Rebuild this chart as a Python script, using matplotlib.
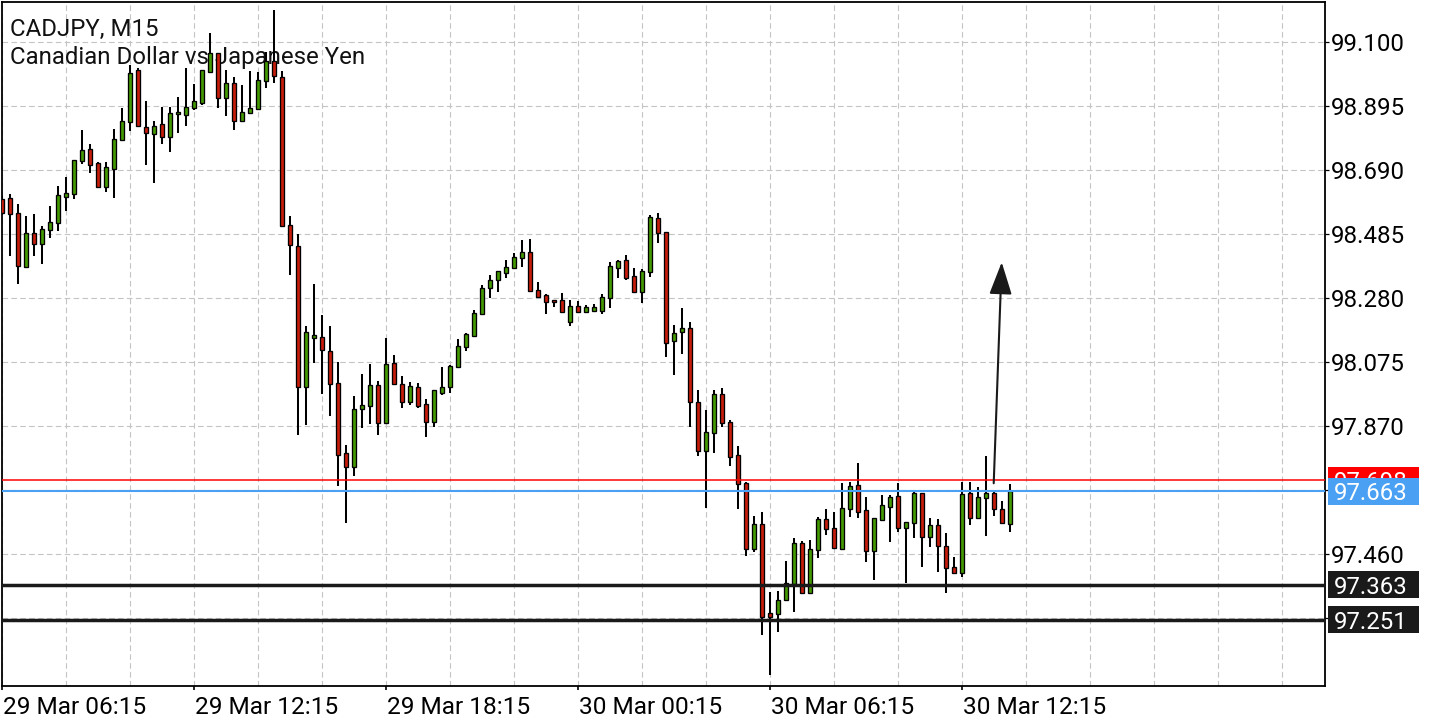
"""
plot.py - CADJPY M15 candlestick chart with support lines and price tags.
"""

import matplotlib

matplotlib.use("Agg")
import matplotlib.pyplot as plt
import matplotlib.transforms as mtransforms
from matplotlib.patches import Rectangle
import numpy as np
import pandas as pd

plt.rcParams["font.family"] = ["Roboto", "DejaVu Sans"]

# 15-minute bars, 29 Mar 06:15 .. 30 Mar 13:45
times = pd.date_range("2023-03-29 06:15", periods=127, freq="15min")

opens = [
    98.599, 98.601, 98.553, 98.381, 98.489, 98.454, 98.499, 98.521, 98.606, 98.615,
    98.719, 98.759, 98.715, 98.636, 98.696, 98.788, 98.844, 99.012, 98.830, 98.807,
    98.838, 98.796, 98.873, 98.868, 98.889, 98.905, 99.004, 99.067, 98.921, 98.969,
    98.848, 98.873, 98.887, 98.978, 99.042, 98.990, 98.514, 98.449, 97.995, 98.152,
    98.156, 98.113, 98.010, 97.784, 97.739, 97.925, 97.936, 98.002, 97.880, 98.072,
    98.006, 97.949, 97.995, 97.942, 97.885, 97.978, 97.997, 98.061, 98.124, 98.160,
    98.229, 98.313, 98.339, 98.361, 98.377, 98.411, 98.428, 98.307, 98.290, 98.275,
    98.275, 98.204, 98.256, 98.238, 98.241, 98.241, 98.281, 98.379, 98.402, 98.351,
    98.300, 98.366, 98.537, 98.492, 98.145, 98.172, 98.184, 97.949, 97.791, 97.848,
    97.973, 97.883, 97.778, 97.688, 97.477, 97.558, 97.272, 97.268, 97.314, 97.365,
    97.496, 97.336, 97.474, 97.573, 97.544, 97.477, 97.605, 97.683, 97.602, 97.472,
    97.570, 97.613, 97.647, 97.544, 97.560, 97.656, 97.515, 97.554, 97.487, 97.419,
    97.400, 97.656, 97.576, 97.640, 97.658, 97.605, 97.558,
]
highs = [
    98.608, 98.615, 98.583, 98.544, 98.551, 98.512, 98.576, 98.640, 98.668, 98.723,
    98.820, 98.775, 98.717, 98.717, 98.823, 98.889, 99.027, 99.017, 98.912, 98.849,
    98.894, 98.892, 98.924, 99.017, 98.967, 99.012, 99.129, 99.067, 99.012, 98.988,
    98.964, 99.009, 99.006, 99.070, 99.204, 99.010, 98.544, 98.486, 98.192, 98.326,
    98.227, 98.192, 98.076, 97.811, 97.968, 98.038, 98.070, 98.016, 98.154, 98.099,
    98.032, 98.012, 98.010, 97.957, 97.987, 98.061, 98.067, 98.149, 98.168, 98.243,
    98.323, 98.354, 98.368, 98.403, 98.427, 98.467, 98.469, 98.333, 98.293, 98.275,
    98.297, 98.275, 98.272, 98.259, 98.261, 98.293, 98.397, 98.403, 98.419, 98.377,
    98.373, 98.547, 98.553, 98.492, 98.195, 98.250, 98.204, 97.987, 97.923, 97.987,
    97.992, 97.891, 97.807, 97.693, 97.583, 97.595, 97.339, 97.342, 97.439, 97.513,
    97.504, 97.506, 97.581, 97.605, 97.596, 97.688, 97.692, 97.754, 97.643, 97.576,
    97.650, 97.650, 97.690, 97.563, 97.661, 97.656, 97.576, 97.573, 97.528, 97.453,
    97.693, 97.693, 97.677, 97.775, 97.664, 97.632, 97.686,
]
lows = [
    98.547, 98.416, 98.325, 98.379, 98.416, 98.389, 98.473, 98.497, 98.561, 98.598,
    98.712, 98.683, 98.636, 98.622, 98.603, 98.788, 98.817, 98.832, 98.708, 98.651,
    98.774, 98.750, 98.811, 98.833, 98.884, 98.900, 99.004, 98.889, 98.865, 98.820,
    98.848, 98.873, 98.887, 98.953, 98.969, 98.508, 98.355, 97.843, 97.875, 98.074,
    97.974, 97.904, 97.679, 97.560, 97.711, 97.865, 97.878, 97.843, 97.880, 98.005,
    97.930, 97.940, 97.929, 97.835, 97.869, 97.971, 97.976, 98.061, 98.113, 98.156,
    98.229, 98.282, 98.302, 98.347, 98.377, 98.382, 98.302, 98.286, 98.230, 98.254,
    98.236, 98.192, 98.234, 98.238, 98.241, 98.230, 98.250, 98.347, 98.339, 98.302,
    98.266, 98.350, 98.459, 98.093, 98.035, 98.102, 97.869, 97.775, 97.610, 97.786,
    97.869, 97.743, 97.606, 97.455, 97.469, 97.202, 97.074, 97.213, 97.314, 97.277,
    97.336, 97.336, 97.448, 97.522, 97.480, 97.477, 97.581, 97.578, 97.436, 97.378,
    97.570, 97.501, 97.533, 97.368, 97.512, 97.419, 97.485, 97.405, 97.338, 97.402,
    97.389, 97.554, 97.576, 97.519, 97.583, 97.560, 97.533,
]
closes = [
    98.554, 98.550, 98.384, 98.489, 98.454, 98.503, 98.524, 98.610, 98.619, 98.723,
    98.756, 98.707, 98.636, 98.700, 98.791, 98.847, 99.003, 98.832, 98.811, 98.833,
    98.796, 98.875, 98.875, 98.894, 98.912, 99.012, 99.067, 98.921, 98.969, 98.849,
    98.878, 98.889, 98.980, 99.042, 98.993, 98.512, 98.451, 97.995, 98.174, 98.163,
    98.115, 98.006, 97.779, 97.739, 97.925, 97.938, 98.002, 97.880, 98.070, 98.005,
    97.949, 97.999, 97.936, 97.885, 97.987, 97.997, 98.064, 98.128, 98.165, 98.232,
    98.313, 98.339, 98.368, 98.380, 98.412, 98.430, 98.305, 98.286, 98.269, 98.268,
    98.236, 98.256, 98.238, 98.252, 98.253, 98.284, 98.384, 98.399, 98.347, 98.302,
    98.368, 98.540, 98.489, 98.138, 98.168, 98.184, 97.947, 97.792, 97.851, 97.973,
    97.880, 97.773, 97.685, 97.477, 97.558, 97.259, 97.261, 97.314, 97.368, 97.496,
    97.336, 97.477, 97.573, 97.542, 97.480, 97.608, 97.679, 97.597, 97.472, 97.576,
    97.618, 97.645, 97.544, 97.563, 97.656, 97.515, 97.554, 97.487, 97.416, 97.402,
    97.654, 97.576, 97.643, 97.656, 97.605, 97.560, 97.663,
]

# price axis levels (MT4 style step 0.205)
ytick_values = [99.100, 98.895, 98.690, 98.485, 98.280, 98.075, 97.870, 97.665, 97.460, 97.255]
ytick_hidden = [97.665, 97.255]  # covered by price tags

ask_price = 97.698
bid_price = 97.663
support_levels = [97.363, 97.251]

# projected move arrow (bar index, price)
arrow_start_bar, arrow_start_price = 124.0, 97.688
arrow_end_bar, arrow_end_price = 125.0, 98.396

symbol_title = "CADJPY, M15"
symbol_desc = "Canadian Dollar vs Japanese Yen"

GREEN = "#449a00"
RED = "#c81c0c"
BLUE = "#4aa0f2"
DARK = "#1a1a1a"
FS = 17.3
FS_X = 17.6

fig = plt.figure(figsize=(14.4, 7.2), dpi=100)
ax = fig.add_axes([1.5 / 1440, 34 / 720, 1323.5 / 1440, 684 / 720])
ax.set_xlim(-0.025, 165.41)
ax.set_ylim(97.0387, 99.2296)

x = np.arange(len(times))
o = np.array(opens)
c = np.array(closes)
up = c >= o

# wicks
ax.vlines(x, lows, highs, color="black", linewidth=1.45, zorder=2)
# bodies (minimum visible height for doji bars)
body_h = np.maximum(np.abs(c - o), 0.006)
body_b = np.minimum(o, c) - (body_h - np.abs(c - o)) / 2
ax.bar(x, body_h, bottom=body_b, width=0.52,
       color=np.where(up, GREEN, RED), edgecolor="black", linewidth=0.95, zorder=3)

# grid
major_idx = list(range(0, len(times), 24))
ax.set_xticks(major_idx)
ax.set_xticklabels([times[i].strftime("%d %b %H:%M") for i in major_idx])
ax.set_xticks(np.arange(0, 166, 8), minor=True)
ax.grid(which="both", axis="x", color="#c4c4c4", linestyle=(0, (5, 3)), linewidth=0.8)
ax.grid(which="major", axis="y", color="#c4c4c4", linestyle=(0, (5, 3)), linewidth=0.8)
ax.set_axisbelow(True)

ax.yaxis.tick_right()
ax.set_yticks(ytick_values)
ax.set_yticklabels(["" if v in ytick_hidden else f"{v:.3f}" for v in ytick_values])
ax.tick_params(axis="y", direction="out", length=3, width=0.9, pad=1.5,
               labelsize=FS, colors="black")
ax.tick_params(axis="x", which="major", direction="out", length=3, width=1.2,
               pad=4, labelsize=FS_X)
ax.tick_params(axis="x", which="minor", length=0)

offset = mtransforms.ScaledTranslation(1.5 / 100, 0, fig.dpi_scale_trans)
for lbl in ax.get_xticklabels():
    lbl.set_horizontalalignment("left")
    lbl.set_transform(lbl.get_transform() + offset)

for sp in ax.spines.values():
    sp.set_linewidth(1.3)
    sp.set_color("black")

# horizontal price lines
ax.axhline(ask_price, color="#ff0000", linewidth=1.1, zorder=4)
ax.axhline(bid_price, color=BLUE, linewidth=1.5, zorder=4)
for lvl in support_levels:
    ax.axhline(lvl, color=DARK, linewidth=2.5, zorder=4)

# price tags on the right scale
ytrans = ax.get_yaxis_transform()
tag_x0 = (1328 - 1.5) / 1323.5
tag_w = 91 / 1323.5
tag_h = 27 * (99.2296 - 97.0387) / 684
text_x = (1334 - 1.5) / 1323.5
tags = [(ask_price, "#ff0000")] + [(bid_price, BLUE)] + [(v, DARK) for v in support_levels]
for k, (price, col) in enumerate(tags):
    z = 6 + 2 * k
    ax.add_patch(Rectangle((tag_x0, price - tag_h / 2), tag_w, tag_h, transform=ytrans,
                           facecolor=col, edgecolor="none", clip_on=False, zorder=z))
    ax.text(text_x, price, f"{price:.3f}", transform=ytrans, color="white", fontsize=FS,
            va="center_baseline", ha="left", clip_on=False, zorder=z + 1)

# arrow
ax.annotate("", xy=(arrow_end_bar, arrow_end_price),
            xytext=(arrow_start_bar, arrow_start_price),
            arrowprops=dict(arrowstyle="-|>,head_length=20,head_width=7",
                            mutation_scale=1, color=DARK, linewidth=1.5,
                            shrinkA=0, shrinkB=0),
            zorder=5)

# symbol caption (behind candles)
ax.text((10 - 1.5) / 1323.5, 1 - 34 / 684, symbol_title, transform=ax.transAxes,
        fontsize=FS, color="#111111", va="baseline", ha="left", zorder=1)
ax.text((10 - 1.5) / 1323.5, 1 - 62 / 684, symbol_desc, transform=ax.transAxes,
        fontsize=FS, color="#111111", va="baseline", ha="left", zorder=1)

fig.savefig("out.png", dpi=100, facecolor="white")
